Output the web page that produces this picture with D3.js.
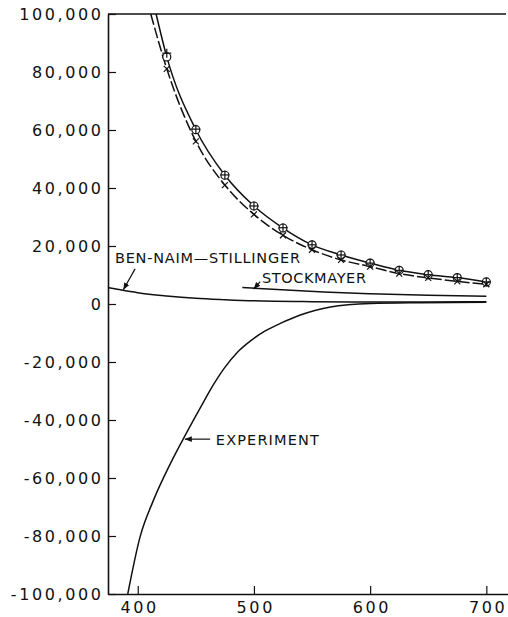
<!DOCTYPE html>
<html>
<head>
<meta charset="utf-8">
<script src="https://cdn.jsdelivr.net/npm/d3@7"></script>
<style>
  html, body { margin: 0; padding: 0; background: #fff; }
  svg { display: block; }
  text { font-family: "DejaVu Sans", sans-serif; fill: #111; }
</style>
</head>
<body>
<svg id="chart" width="508" height="617"></svg>
<script>
// ---------- data ----------
const xTicks = [400, 500, 600, 700];
const yTicks = [-100000, -80000, -60000, -40000, -20000, 0, 20000, 40000, 60000, 80000, 100000];

// computed points (markers)
const markerTemps   = [425, 450, 475, 500, 525, 550, 575, 600, 625, 650, 675, 700];
const circleValues  = [85200, 60100, 44400, 33800, 26200, 20400, 16900, 14100, 11600, 10100, 9100, 7600];
const plusValues    = [86500, 60300, 44500, 33800, 26300, 20400, 16900, 14100, 11600, 10100, 9100, 7600];
const crossValues   = [81100, 56100, 41000, 30900, 23700, 18700, 15200, 12900, 10500, 9000, 7800, 6800];

// solid curve through circles (starts where it leaves the top of the frame)
const solidCurveTemps  = [415.8, 425, 450, 475, 500, 525, 550, 575, 600, 625, 650, 675, 700];
const solidCurveValues = [100000, 85200, 60100, 44400, 33800, 26200, 20400, 16900, 14100, 11600, 10100, 9100, 7600];
// dashed curve through crosses
const dashedCurveTemps  = [411.2, 425, 450, 475, 500, 525, 550, 575, 600, 625, 650, 675, 700];
const dashedCurveValues = [100000, 81100, 56100, 41000, 30900, 23700, 18700, 15200, 12900, 10500, 9000, 7800, 6800];

// Ben-Naim–Stillinger
const benNaimTemps  = [374.4, 385, 400, 425, 450, 475, 500, 550, 600, 650, 700];
const benNaimValues = [5700, 4900, 3900, 2800, 2000, 1500, 1100, 800, 700, 700, 800];
// Stockmayer
const stockmayerTemps  = [490, 520, 560, 600, 650, 700];
const stockmayerValues = [5700, 5000, 4100, 3500, 3000, 2650];
// Experiment
const experimentTemps  = [391.4, 402, 413.4, 427.9, 440.8, 453.7, 464.9, 475.3, 485.6, 496.8, 509.7, 522.7, 539.9, 565.8, 600.3, 643.4, 700];
const experimentValues = [-100000, -80300, -67800, -55200, -45300, -35900, -28000, -21700, -16700, -12800, -9300, -6700, -3800, -1000, 170, 450, 600];

// annotation labels (in data units)
const labels = [
  { text: "BEN-NAIM\u2014STILLINGER", t: 380.4, v: 14100, len: 185,
    arrowFrom: [397.7, 12100], arrowTo: [387.6, 4900] },
  { text: "STOCKMAYER", t: 506.9, v: 7100, len: 104,
    arrowFrom: [505.4, 7700], arrowTo: [499.7, 5100] },
  { text: "EXPERIMENT", t: 467.2, v: -48600, len: 103,
    arrowFrom: [462.3, -46600], arrowTo: [440.5, -46600] }
];

// ---------- layout ----------
const svg = d3.select("#chart");
const x = d3.scaleLinear().domain([374.4, 719]).range([108, 508.4]);
const y = d3.scaleLinear().domain([-100000, 100000]).range([594, 14]);
const fmtComma = d3.format(",");
const fmt = d => fmtComma(d).replace("\u2212", "-");

// axes
const yAxis = d3.axisLeft(y).tickValues(yTicks).tickFormat(fmt)
  .tickSizeInner(-8).tickSizeOuter(0).tickPadding(7);
const xAxis = d3.axisBottom(x).tickValues(xTicks).tickFormat(d3.format("d"))
  .tickSizeInner(-8).tickSizeOuter(0).tickPadding(7.5);

const gy = svg.append("g").attr("transform", `translate(${x.range()[0]},0)`).call(yAxis);
const gx = svg.append("g").attr("transform", `translate(0,${y.range()[0]})`).call(xAxis);
[gx, gy].forEach(g => {
  g.select(".domain").attr("stroke", "#111").attr("stroke-width", 1.6);
  g.selectAll(".tick line").attr("stroke", "#111").attr("stroke-width", 1.2);
  g.selectAll(".tick text").attr("font-size", 16).attr("fill", "#111")
    .attr("font-family", "DejaVu Sans, sans-serif").style("letter-spacing", "2.6px");
});
gy.selectAll(".tick text").attr("dx", 2.6);
gx.selectAll(".tick text").attr("dx", 1.3);

// top border
svg.append("line")
  .attr("x1", x.range()[0]).attr("x2", x(717))
  .attr("y1", y(100000)).attr("y2", y(100000))
  .attr("stroke", "#111").attr("stroke-width", 1.4);

// curves
const line = d3.line().x(d => x(d[0])).y(d => y(d[1])).curve(d3.curveMonotoneX);
const zipPts = (a, b) => a.map((t, i) => [t, b[i]]);

function drawCurve(temps, vals, dash) {
  svg.append("path").datum(zipPts(temps, vals))
    .attr("d", line).attr("fill", "none").attr("stroke", "#111")
    .attr("stroke-width", 1.5).attr("stroke-dasharray", dash || null);
}
drawCurve(solidCurveTemps, solidCurveValues);
drawCurve(dashedCurveTemps, dashedCurveValues, "11,3");
drawCurve(benNaimTemps, benNaimValues);
drawCurve(stockmayerTemps, stockmayerValues);
drawCurve(experimentTemps, experimentValues);

// markers
const mk = svg.append("g").attr("stroke", "#111").attr("fill", "none").attr("stroke-width", 1.2);
markerTemps.forEach((t, i) => {
  const cx = x(t), cyc = y(circleValues[i]), cyp = y(plusValues[i]), cyx = y(crossValues[i]);
  mk.append("circle").attr("cx", cx).attr("cy", cyc).attr("r", 4).attr("fill", "#fff");
  mk.append("line").attr("x1", cx - 4.5).attr("x2", cx + 4.5).attr("y1", cyp).attr("y2", cyp);
  mk.append("line").attr("x1", cx).attr("x2", cx).attr("y1", cyp - 4.5).attr("y2", cyp + 4.5);
  mk.append("line").attr("x1", cx - 3).attr("x2", cx + 3).attr("y1", cyx - 3).attr("y2", cyx + 3);
  mk.append("line").attr("x1", cx - 3).attr("x2", cx + 3).attr("y1", cyx + 3).attr("y2", cyx - 3);
});

// arrowhead marker
svg.append("defs").append("marker")
  .attr("id", "arrow").attr("viewBox", "0 0 10 10").attr("refX", 10).attr("refY", 5)
  .attr("markerWidth", 7).attr("markerHeight", 7).attr("markerUnits", "userSpaceOnUse")
  .attr("orient", "auto")
  .append("path").attr("d", "M0,1 L10,5 L0,9 Z").attr("fill", "#111");

// labels + arrows
labels.forEach(l => {
  svg.append("text").attr("x", x(l.t)).attr("y", y(l.v))
    .attr("font-size", 14.5).attr("textLength", l.len).attr("lengthAdjust", "spacing")
    .text(l.text);
  svg.append("line")
    .attr("x1", x(l.arrowFrom[0])).attr("y1", y(l.arrowFrom[1]))
    .attr("x2", x(l.arrowTo[0])).attr("y2", y(l.arrowTo[1]))
    .attr("stroke", "#111").attr("stroke-width", 1.2).attr("marker-end", "url(#arrow)");
});
</script>
</body>
</html>
